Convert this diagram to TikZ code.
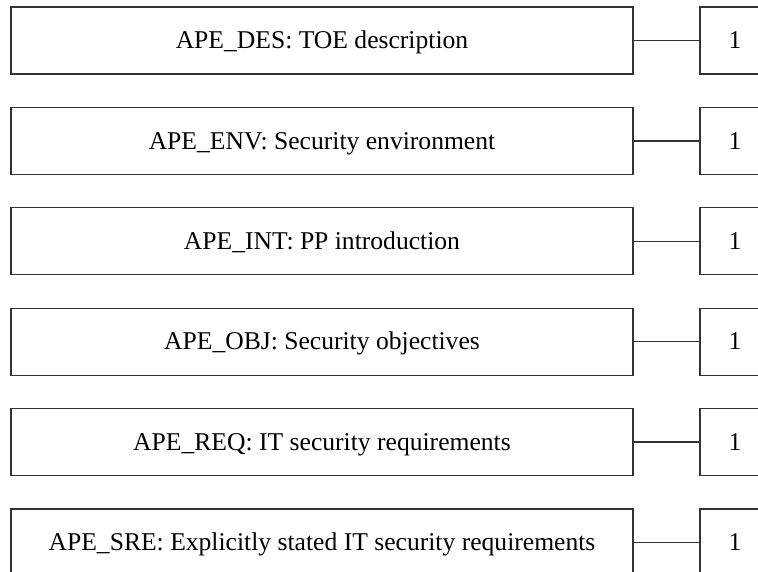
\documentclass[tikz,border=0pt]{standalone}
\usepackage{fontspec}
\setmainfont{Liberation Serif}
\tikzset{every picture/.style={line width=0.75pt}}
\tikzset{
  famBox/.style={draw={rgb, 255:red, 51; green, 51; blue, 51 },line width=1pt,minimum width=466.5pt,minimum height=50.25pt,inner sep=0.75pt,font=\fontsize{19.2}{22}\selectfont,text height=12.4pt,text depth=0pt},
  lvlBox/.style={draw={rgb, 255:red, 51; green, 51; blue, 51 },line width=1pt,minimum width=52.5pt,minimum height=50.25pt,inner sep=0.75pt,font=\fontsize{19.2}{22}\selectfont,text height=12.4pt,text depth=0pt},
  famLink/.style={draw={rgb, 255:red, 51; green, 51; blue, 51 },line width=1pt}
}

\begin{document}
\begin{tikzpicture}[x=0.75pt,y=0.75pt,yscale=-1,xscale=1]
\clip (0,0) rectangle (758,572);
\useasboundingbox (0,0) rectangle (758,572);

%Shape: Rectangle [id:des] 
\node [famBox] (des) at (322,40.5) {APE\_DES: TOE description};
\node [lvlBox] (des1) at (735,40.5) {1};
%Straight Lines [id:desLink] 
\draw [famLink] (des.east) -- (des1.west) ;

%Shape: Rectangle [id:env] 
\node [famBox] (env) at (322,140.9) {APE\_ENV: Security environment};
\node [lvlBox] (env1) at (735,140.9) {1};
%Straight Lines [id:envLink] 
\draw [famLink] (env.east) -- (env1.west) ;

%Shape: Rectangle [id:int] 
\node [famBox] (int) at (322,241.3) {APE\_INT: PP introduction};
\node [lvlBox] (int1) at (735,241.3) {1};
%Straight Lines [id:intLink] 
\draw [famLink] (int.east) -- (int1.west) ;

%Shape: Rectangle [id:obj] 
\node [famBox] (obj) at (322,341.7) {APE\_OBJ: Security objectives};
\node [lvlBox] (obj1) at (735,341.7) {1};
%Straight Lines [id:objLink] 
\draw [famLink] (obj.east) -- (obj1.west) ;

%Shape: Rectangle [id:req] 
\node [famBox] (req) at (322,442.1) {APE\_REQ: IT security requirements};
\node [lvlBox] (req1) at (735,442.1) {1};
%Straight Lines [id:reqLink] 
\draw [famLink] (req.east) -- (req1.west) ;

%Shape: Rectangle [id:sre] 
\node [famBox] (sre) at (322,542.5) {APE\_SRE: Explicitly stated IT security requirements};
\node [lvlBox] (sre1) at (735,542.5) {1};
%Straight Lines [id:sreLink] 
\draw [famLink] (sre.east) -- (sre1.west) ;

\end{tikzpicture}
\end{document}
